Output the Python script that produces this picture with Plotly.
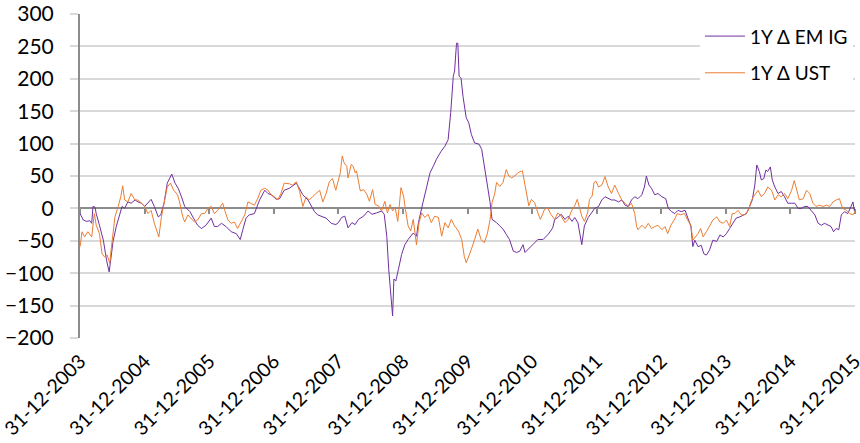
import pandas as pd
import plotly.graph_objects as go

# ---- data (decimal years, 2004.0 = 31-12-2003) ----
em_years = [2004.00,2004.05,2004.10,2004.15,2004.18,2004.20,2004.23,2004.25,2004.30,2004.36,2004.41,2004.45,2004.48,2004.51,2004.56,2004.61,2004.65,2004.69,2004.74,2004.79,2004.85,2004.90,2004.95,
            2005.00,2005.05,2005.10,2005.15,2005.21,2005.25,2005.30,2005.35,2005.42,2005.47,2005.52,2005.57,2005.62,2005.70,2005.75,2005.82,2005.88,2005.95,
            2006.03,2006.08,2006.13,2006.19,2006.26,2006.34,2006.42,2006.48,2006.52,2006.57,2006.62,2006.70,2006.78,2006.86,2006.91,2006.96,
            2007.04,2007.09,2007.16,2007.24,2007.35,2007.40,2007.45,2007.53,2007.58,2007.63,2007.68,2007.76,2007.81,2007.89,2007.96,
            2008.00,2008.05,2008.10,2008.15,2008.21,2008.26,2008.31,2008.39,2008.46,2008.52,2008.59,2008.67,2008.71,2008.75,2008.78,2008.81,2008.84,2008.86,2008.89,2008.93,2008.98,
            2009.03,2009.08,2009.16,2009.21,2009.24,2009.28,2009.31,2009.37,2009.42,2009.47,2009.52,2009.59,2009.65,2009.70,2009.74,2009.78,2009.80,2009.83,2009.85,2009.87,2009.90,2009.93,2009.98,
            2010.02,2010.06,2010.11,2010.18,2010.22,2010.27,2010.31,2010.35,2010.38,2010.45,2010.50,2010.55,2010.60,2010.65,2010.71,2010.76,2010.81,2010.86,2010.89,2010.94,
            2011.02,2011.09,2011.17,2011.25,2011.32,2011.35,2011.40,2011.45,2011.51,2011.56,2011.62,2011.66,2011.71,2011.77,2011.81,2011.87,2011.92,2011.97,
            2012.03,2012.08,2012.13,2012.18,2012.23,2012.28,2012.34,2012.39,2012.44,2012.49,2012.54,2012.59,2012.64,2012.70,2012.74,2012.77,2012.81,2012.85,2012.90,2012.95,
            2013.01,2013.07,2013.11,2013.16,2013.21,2013.26,2013.31,2013.37,2013.42,2013.46,2013.49,2013.52,2013.57,2013.62,2013.66,2013.70,2013.75,2013.80,2013.86,2013.91,2013.96,
            2014.01,2014.06,2014.11,2014.16,2014.22,2014.27,2014.32,2014.37,2014.41,2014.45,2014.48,2014.52,2014.55,2014.59,2014.62,2014.65,2014.69,2014.72,2014.76,2014.81,2014.86,2014.91,2014.96,
            2015.02,2015.07,2015.12,2015.17,2015.22,2015.27,2015.32,2015.38,2015.43,2015.48,2015.53,2015.58,2015.63,2015.67,2015.71,2015.75,2015.79,2015.84,2015.89,2015.94,2015.97,2015.99,2016.00]
em_values = [-8,-18,-20,-19,-23,3,2,-8,-26,-49,-80,-98,-75,-51,-28,-10,3,0,10,8,13,10,8,
             3,8,14,3,-13,-10,8,39,53,39,31,18,3,-5,-13,-26,-31,-26,
             -15,-28,-28,-23,-28,-36,-39,-48,-33,-15,-10,-8,13,28,23,21,
             14,15,28,31,39,31,21,13,3,-5,-10,-13,-15,-23,-25,
             -22,-14,-12,-30,-22,-25,-17,-12,-4,-9,-7,-4,-9,-43,-94,-130,-166,-109,-112,-94,-71,
             -56,-48,-38,-43,-22,-2,9,34,55,65,76,88,96,106,148,204,212,255,255,204,201,173,140,
             132,114,101,99,91,60,40,9,-17,-22,-27,-32,-40,-48,-66,-68,-66,-56,-68,-63,
             -56,-48,-48,-40,-30,-17,-14,-9,-17,-12,-20,-14,-22,-56,-27,-14,-7,0,
             3,13,18,15,13,13,10,13,5,3,13,18,15,21,33,50,36,31,21,23,
             18,15,0,-5,-8,-3,-5,-3,-18,-28,-59,-49,-59,-57,-70,-72,-64,-49,-51,-41,-44,
             -39,-31,-23,-15,-13,-10,-8,3,13,36,67,57,44,46,59,57,64,44,33,23,26,18,8,
             8,8,0,0,3,3,-3,-10,-23,-26,-23,-26,-28,-36,-31,-33,-10,-5,-8,3,10,-3,0]

ust_years = [2004.00,2004.03,2004.07,2004.12,2004.18,2004.22,2004.25,2004.30,2004.34,2004.38,2004.42,2004.46,2004.48,2004.54,2004.59,2004.63,2004.66,2004.69,2004.74,2004.79,2004.85,2004.90,2004.95,
             2005.00,2005.05,2005.10,2005.15,2005.20,2005.22,2005.26,2005.30,2005.35,2005.40,2005.45,2005.51,2005.54,2005.59,2005.62,2005.67,2005.72,2005.77,2005.82,2005.88,2005.93,2005.98,
             2006.03,2006.08,2006.13,2006.21,2006.24,2006.29,2006.34,2006.39,2006.44,2006.49,2006.55,2006.60,2006.65,2006.70,2006.75,2006.80,2006.86,2006.91,2006.96,
             2007.01,2007.06,2007.11,2007.16,2007.24,2007.29,2007.35,2007.40,2007.45,2007.50,2007.55,2007.60,2007.65,2007.71,2007.76,2007.81,2007.86,2007.91,2007.96,
             2008.00,2008.03,2008.06,2008.09,2008.13,2008.15,2008.20,2008.23,2008.26,2008.28,2008.34,2008.39,2008.44,2008.48,2008.53,2008.57,2008.62,2008.67,2008.72,2008.76,2008.80,2008.84,2008.88,2008.92,2008.97,
             2009.01,2009.04,2009.08,2009.12,2009.16,2009.21,2009.25,2009.29,2009.34,2009.39,2009.44,2009.49,2009.55,2009.60,2009.65,2009.70,2009.75,2009.80,2009.86,2009.91,2009.95,2009.98,
             2010.02,2010.06,2010.11,2010.16,2010.21,2010.26,2010.31,2010.35,2010.38,2010.42,2010.45,2010.50,2010.55,2010.60,2010.64,2010.68,2010.73,2010.78,2010.85,2010.88,2010.91,2010.95,2010.99,
             2011.04,2011.09,2011.13,2011.19,2011.24,2011.29,2011.35,2011.40,2011.45,2011.51,2011.56,2011.61,2011.66,2011.70,2011.74,2011.77,2011.81,2011.86,2011.89,2011.93,2011.96,2011.99,
             2012.03,2012.08,2012.13,2012.18,2012.23,2012.28,2012.34,2012.39,2012.44,2012.49,2012.54,2012.59,2012.62,2012.64,2012.70,2012.75,2012.80,2012.85,2012.90,2012.95,
             2013.01,2013.06,2013.10,2013.15,2013.20,2013.25,2013.30,2013.36,2013.41,2013.46,2013.49,2013.53,2013.57,2013.61,2013.65,2013.70,2013.75,2013.80,2013.86,2013.91,2013.96,
             2014.01,2014.06,2014.10,2014.14,2014.19,2014.24,2014.29,2014.35,2014.40,2014.45,2014.50,2014.55,2014.60,2014.65,2014.71,2014.76,2014.81,2014.86,2014.91,2014.96,
             2015.02,2015.06,2015.09,2015.14,2015.20,2015.25,2015.30,2015.35,2015.40,2015.45,2015.51,2015.56,2015.61,2015.66,2015.71,2015.76,2015.81,2015.87,2015.92,2015.97,2016.00]
ust_values = [-59,-36,-44,-36,-44,-8,-26,-39,-70,-75,-72,-85,-64,-13,3,18,35,13,10,23,13,13,8,
              3,-8,-3,-23,-36,-44,-13,10,33,39,28,21,10,-13,-21,-10,-15,-21,-18,-8,-8,0,
              3,-8,-3,8,-3,-18,-23,-21,-31,-21,-10,10,8,5,15,28,31,28,21,
              18,13,23,39,38,36,41,26,3,18,13,18,23,28,10,23,41,46,28,
              44,55,81,70,65,47,68,65,55,58,27,29,22,11,29,6,4,-4,11,-7,6,-4,1,-20,32,
              19,-2,-27,-35,-17,-56,-22,-7,-14,-9,-22,-12,-14,-43,-22,-30,-17,-27,-35,-48,-74,-84,
              -74,-63,-48,-32,-48,-53,-38,-17,9,22,40,34,40,60,50,47,50,55,58,40,24,4,14,
              9,-7,-17,-2,1,-9,-17,-7,-12,-22,-17,-4,4,14,-2,-12,-20,-7,14,19,40,42,
              33,36,49,33,23,36,23,13,8,3,8,-8,-28,-33,-26,-31,-23,-31,-28,-26,
              -33,-28,-39,-26,-18,-8,-10,-8,-18,-26,-49,-44,-39,-31,-44,-36,-28,-18,-13,-21,-23,
              -18,-28,-8,-8,-3,-10,-10,-3,13,21,28,18,23,33,28,13,21,18,23,15,
              28,43,31,13,15,28,23,8,3,5,3,5,3,10,13,15,0,-3,-8,-10,-5]

tick_labels = ["31-12-2003","31-12-2004","31-12-2005","31-12-2006","31-12-2007","31-12-2008",
               "31-12-2009","31-12-2010","31-12-2011","31-12-2012","31-12-2013","31-12-2014","31-12-2015"]
series_names = ["1Y \u0394 EM IG", "1Y \u0394 UST"]

# ---- build ----
def to_date(y):
    return pd.Timestamp("2003-12-31") + pd.Timedelta(days=(y - 2004.0) * 365.25)

em_dates = [to_date(y) for y in em_years]
ust_dates = [to_date(y) for y in ust_years]
tick_dates = [pd.to_datetime(t, format="%d-%m-%Y") for t in tick_labels]
x_range = [tick_dates[0] - pd.Timedelta(hours=12), tick_dates[-1] + pd.Timedelta(hours=12)]

FAM = "Lato, 'Open Sans', sans-serif"
Y_FONT = dict(family=FAM, size=21, color="#000000")
X_FONT = dict(family=FAM, size=19.5, color="#000000")
LEG_FONT = dict(family=FAM, size=19, color="#000000")
GRID = "#D9D9D9"
AXIS = "#8C8C8C"

fig = go.Figure()
fig.add_trace(go.Scatter(x=em_dates, y=em_values, mode="lines", name=series_names[0],
                         line=dict(color="#7030A0", width=1), legendgroup="a"))
fig.add_trace(go.Scatter(x=ust_dates, y=ust_values, mode="lines", name=series_names[1],
                         line=dict(color="#ED7D31", width=1), legendgroup="b"))
# helper trace for the zero-line axis with its year tick marks
fig.add_trace(go.Scatter(x=[tick_dates[0]], y=[0], xaxis="x2", mode="lines",
                         showlegend=False, hoverinfo="skip", line=dict(width=0)))

fig.update_layout(
    width=860, height=443,
    margin=dict(l=80, r=5, t=14, b=105, autoexpand=False),
    paper_bgcolor="white", plot_bgcolor="white",
    font=Y_FONT,
    showlegend=True,
    legend=dict(x=0.80, y=0.99, xanchor="left", yanchor="top", bgcolor="white",
                font=LEG_FONT, tracegroupgap=9, itemwidth=40),
    xaxis=dict(type="date", range=x_range, automargin=False,
               tickmode="array", tickvals=tick_dates, ticktext=tick_labels,
               tickangle=-45, showgrid=False, showline=False, zeroline=False,
               ticks="", tickfont=X_FONT, ticklabelstandoff=7, ticklabeloverflow="allow"),
    xaxis2=dict(type="date", overlaying="x", matches="x", anchor="free", position=0.4,
                side="bottom", showline=True, linecolor=AXIS, linewidth=2,
                ticks="outside", ticklen=5, tickwidth=2, tickcolor=AXIS,
                tickmode="array", tickvals=tick_dates, showticklabels=False,
                showgrid=False, zeroline=False, layer="below traces", automargin=False),
    yaxis=dict(range=[-200, 300], tickmode="linear", tick0=-200, dtick=50, automargin=False,
               showgrid=True, gridcolor=GRID, gridwidth=1.5,
               showline=True, linecolor=AXIS, linewidth=2,
               ticks="outside", ticklen=8, tickcolor=GRID, tickwidth=1.5,
               zeroline=False, tickfont=Y_FONT, ticklabelstandoff=12, ticklabeloverflow="allow"),
)

fig.write_html("out.html", config={"displayModeBar": False},
               post_script="document.body.style.margin='0';document.body.style.padding='0';")
